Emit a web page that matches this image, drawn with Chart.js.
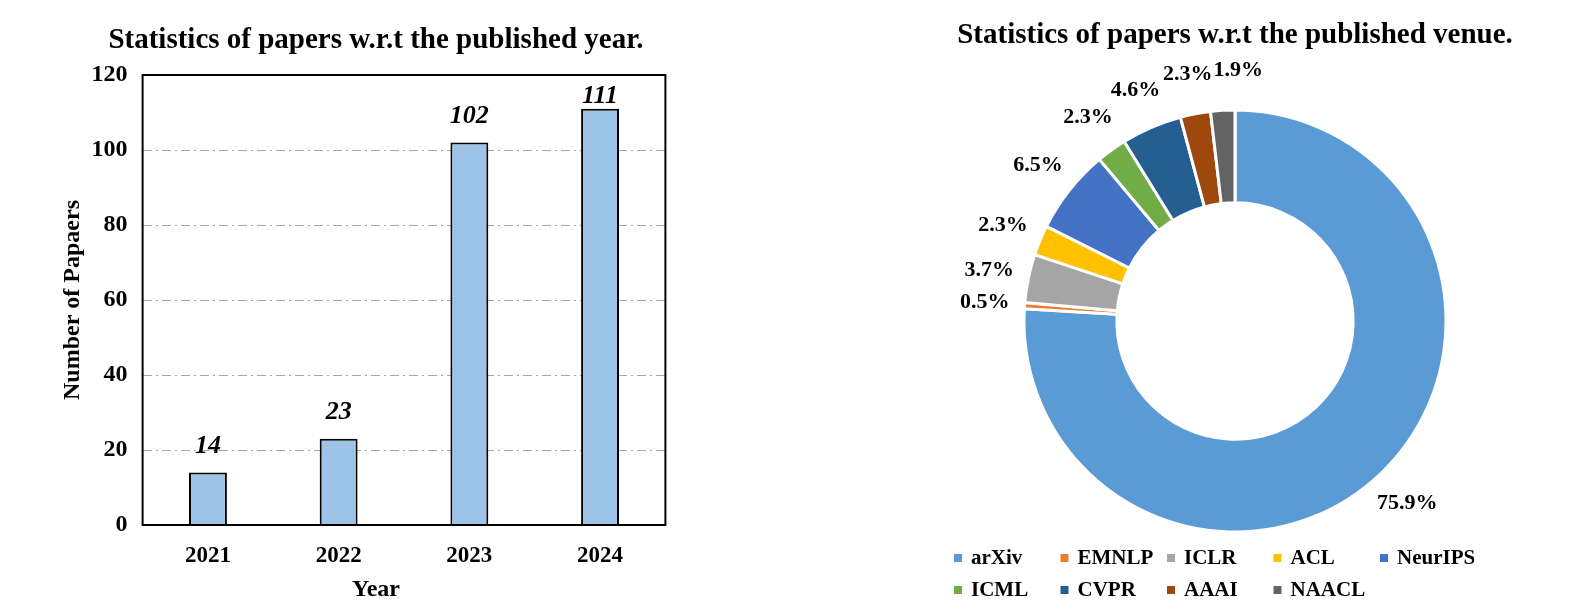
<!DOCTYPE html>
<html>
<head>
<meta charset="utf-8">
<script src="https://cdn.jsdelivr.net/npm/chart.js@4.4.1/dist/chart.umd.min.js"></script>
<style>
  html, body { margin: 0; padding: 0; background: #fff; overflow: hidden; }
  #wrap { position: relative; width: 1596px; height: 615px; }
  #yearChart { position: absolute; left: 0; top: 0; }
  #venueChart { position: absolute; left: 874px; top: 0; }
</style>
</head>
<body>
<div id="wrap">
  <canvas id="yearChart" width="752" height="615"></canvas>
  <canvas id="venueChart" width="722" height="615"></canvas>
</div>
<script>
// left chart: papers per year
const years = ["2021", "2022", "2023", "2024"];
const paperCounts = [14, 23, 102, 111];
const yTicks = [0, 20, 40, 60, 80, 100, 120];

// right chart: papers per venue (counts, shown as percentages)
const venues = ["arXiv", "EMNLP", "ICLR", "ACL", "NeurIPS", "ICML", "CVPR", "AAAI", "NAACL"];
const venueCounts = [164, 1, 8, 5, 14, 5, 10, 5, 4];
const venueColors = ["#5B9BD5", "#ED7D31", "#A5A5A5", "#FFC000", "#4472C4", "#70AD47", "#255E91", "#9E480E", "#636363"];

const SERIF = "'Liberation Serif', 'Times New Roman', serif";

// black box round the plot area
const frame = {
  id: "frame",
  afterDatasetsDraw(chart) {
    const { ctx, chartArea: a } = chart;
    ctx.save();
    ctx.strokeStyle = "#000";
    ctx.lineWidth = 2;
    ctx.strokeRect(a.left, a.top, a.right - a.left, a.bottom - a.top);
    ctx.restore();
  }
};

// value above each bar
const barLabels = {
  id: "barLabels",
  afterDatasetsDraw(chart) {
    const { ctx, chartArea } = chart;
    const meta = chart.getDatasetMeta(0);
    ctx.save();
    ctx.font = "italic bold 26px " + SERIF;
    ctx.fillStyle = "#000";
    ctx.textAlign = "center";
    ctx.textBaseline = "middle";
    meta.data.forEach((bar, i) => {
      const y = Math.max(bar.y - 26, chartArea.top + 21);
      ctx.fillText(chart.data.datasets[0].data[i], bar.x, y);
    });
    ctx.restore();
  }
};

function drawYearChart() {
  const ctx = document.getElementById("yearChart").getContext("2d");
  new Chart(ctx, {
    type: "bar",
    data: {
      labels: years,
      datasets: [{
        data: paperCounts,
        backgroundColor: "#9DC3E6",
        borderColor: "#000",
        borderWidth: 2,
        barPercentage: 0.29,
        categoryPercentage: 1
      }]
    },
    options: {
      responsive: false,
      animation: false,
      layout: { padding: 0 },
      plugins: {
        legend: { display: false },
        tooltip: { enabled: false },
        title: {
          display: true,
          text: "Statistics of papers w.r.t the published year.",
          color: "#000",
          font: { family: SERIF, size: 29, weight: "bold" },
          padding: { top: 23.6, bottom: 16.6 }
        },
        // x axis title, centred on the whole figure like the original
        subtitle: {
          display: true,
          position: "bottom",
          text: "Year",
          color: "#000",
          font: { family: SERIF, size: 24, weight: "bold" },
          padding: { top: 0, bottom: 10.6 }
        }
      },
      scales: {
        x: {
          afterFit: s => { s.height = 50.6; },
          ticks: { color: "#000", font: { family: SERIF, size: 23, weight: "bold" }, padding: 17 },
          grid: { display: false, drawTicks: false },
          border: { display: false }
        },
        y: {
          min: 0,
          max: 120,
          afterBuildTicks: s => { s.ticks = yTicks.map(v => ({ value: v })); },
          afterFit: s => { s.width = 142.6; },
          ticks: { color: "#000", font: { family: SERIF, size: 24, weight: "bold" }, padding: 15 },
          grid: { color: "#A6A6A6", lineWidth: 1, drawTicks: false },
          border: { display: false, dash: [9, 4, 2, 4] },
          title: {
            display: true,
            text: "Number of Papaers",
            color: "#000",
            font: { family: SERIF, size: 24, weight: "bold" },
            padding: { top: 58.6, bottom: 0 }
          }
        },
        // empty margin on the right so the titles sit left of the plot centre
        yRight: {
          type: "linear",
          position: "right",
          afterFit: s => { s.width = 86.6; },
          ticks: { display: false },
          grid: { display: false, drawTicks: false },
          border: { display: false }
        }
      }
    },
    plugins: [frame, barLabels]
  });
}

// percentage next to each slice, nudged sideways when two would overlap
const sliceLabels = {
  id: "sliceLabels",
  afterDatasetsDraw(chart) {
    const { ctx } = chart;
    const data = chart.data.datasets[0].data;
    const total = data.reduce((a, b) => a + b, 0);
    ctx.save();
    ctx.font = "bold 22px " + SERIF;
    ctx.fillStyle = "#000";
    ctx.textAlign = "center";
    ctx.textBaseline = "middle";
    const boxes = [];
    chart.getDatasetMeta(0).data.forEach((arc, i) => {
      const p = arc.getProps(["x", "y", "startAngle", "endAngle", "outerRadius"], true);
      const mid = (p.startAngle + p.endAngle) / 2;
      const r = p.outerRadius + 40;
      const txt = (data[i] / total * 100).toFixed(1) + "%";
      const w = ctx.measureText(txt).width, h = 20;
      let x = p.x + Math.cos(mid) * r;
      const y = p.y + Math.sin(mid) * r;
      const prev = boxes[boxes.length - 1];
      if (prev && Math.abs(prev.y - y) < h) {
        const need = (prev.w + w) / 2 + 1 - Math.abs(x - prev.x);
        if (need > 0) x += (x >= prev.x ? 1 : -1) * need;
      }
      boxes.push({ x, y, w, txt });
    });
    boxes.forEach(b => ctx.fillText(b.txt, b.x, b.y));
    ctx.restore();
  }
};

// legend laid out in fixed columns, two rows
const gridLegend = {
  id: "gridLegend",
  afterDraw(chart, args, opts) {
    const { ctx, chartArea: a } = chart;
    const cx = (a.left + a.right) / 2;
    const cy = (a.top + a.bottom) / 2;
    const colors = chart.data.datasets[0].backgroundColor;
    ctx.save();
    ctx.font = "bold 21px " + SERIF;
    ctx.textAlign = "left";
    ctx.textBaseline = "middle";
    chart.data.labels.forEach((lab, i) => {
      const col = i % opts.cols, row = Math.floor(i / opts.cols);
      const x = cx + opts.startX + col * opts.colW;
      const y = cy + opts.startY + row * opts.rowH;
      ctx.fillStyle = colors[i];
      ctx.fillRect(x, y - opts.box / 2, opts.box, opts.box);
      ctx.fillStyle = "#000";
      ctx.fillText(lab, x + 17, y + 1);
    });
    ctx.restore();
  }
};

function drawVenueChart() {
  const ctx = document.getElementById("venueChart").getContext("2d");
  new Chart(ctx, {
    type: "doughnut",
    data: {
      labels: venues,
      datasets: [{
        data: venueCounts,
        backgroundColor: venueColors,
        borderColor: "#fff",
        borderWidth: 3,
        hoverBorderWidth: 3,
        offset: 0,
        hoverOffset: 0
      }]
    },
    options: {
      responsive: false,
      animation: false,
      cutout: "56%",
      rotation: 0,
      layout: { padding: { left: 0, right: 0, top: 0, bottom: 81.5 } },
      plugins: {
        legend: { display: false },
        tooltip: { enabled: false },
        title: {
          display: true,
          text: "Statistics of papers w.r.t the published venue.",
          color: "#000",
          font: { family: SERIF, size: 29, weight: "bold" },
          padding: { top: 18.6, bottom: 55.1 }
        },
        gridLegend: { cols: 5, startX: -281, startY: 237, colW: 106.5, rowH: 32, box: 8 }
      }
    },
    plugins: [sliceLabels, gridLegend]
  });
}

drawYearChart();
drawVenueChart();
</script>
</body>
</html>
